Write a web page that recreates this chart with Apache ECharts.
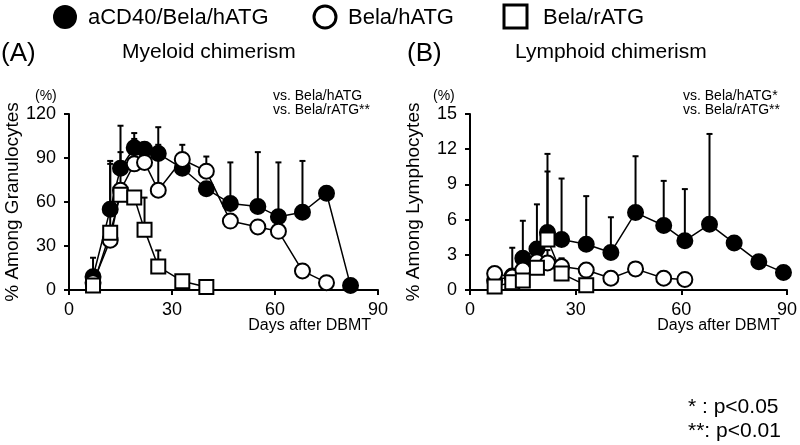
<!DOCTYPE html>
<html>
<head>
<meta charset="utf-8">
<script src="https://cdn.jsdelivr.net/npm/echarts@6/dist/echarts.min.js"></script>
<style>html,body{margin:0;padding:0;background:#fff;}#c{width:800px;height:445px;}</style>
</head>
<body>
<div id="c"></div>
<script>
// ---- Data ----
const seriesNames = ['aCD40/Bela/hATG', 'Bela/hATG', 'Bela/rATG'];
const xTicks = [0, 30, 60, 90];
const myeTicks = [0, 30, 60, 90, 120];
const lymTicks = [0, 3, 6, 9, 12, 15];

// Myeloid chimerism (A)
const myeFilledDays = [7, 12, 15, 19, 22, 26, 33, 40, 47, 55, 61, 68, 75, 82];
const myeFilled     = [9, 55, 83, 97, 96, 93, 83, 69, 59, 57, 50, 53, 66, 3];
const myeFilledTop  = [22, 88, 112, 107, null, 111, 91, null, 87, 94, 87, 88, null, null];
const myeOpenDays   = [7, 12, 15, 19, 22, 26, 33, 40, 47, 55, 61, 68, 75];
const myeOpen       = [5, 34, 68, 86, 87, 68, 89, 81, 47, 43, 40, 13, 5];
const myeOpenTop    = [null, 86, 94, 103, null, 99, 99, 91, null, null, null, null, null];
const myeSqDays     = [7, 12, 15, 19, 22, 26, 33, 40];
const myeSq         = [3, 39, 65, 63, 41, 16, 6, 2];
const myeSqTop      = [null, null, null, null, 63, 27, null, null];

// Lymphoid chimerism (B)
const lymFilledDays = [7, 12, 15, 19, 22, 26, 33, 40, 47, 55, 61, 68, 75, 82, 89];
const lymFilled     = [0.8, 1.2, 2.7, 3.5, 4.9, 4.3, 3.9, 3.2, 6.6, 5.5, 4.2, 5.6, 4.0, 2.4, 1.5];
const lymFilledTop  = [null, 3.6, 5.9, 7.3, 11.6, 9.5, 8.0, 6.2, 11.4, 9.3, 8.6, 13.3, null, null, null];
const lymOpenDays   = [7, 12, 15, 19, 22, 26, 33, 40, 47, 55, 61];
const lymOpen       = [1.4, 1.1, 1.7, 2.4, 2.3, 2.0, 1.7, 1.0, 1.8, 1.0, 0.9];
const lymOpenTop    = [null, null, null, null, 3.4, null, null, null, 2.1, null, null];
const lymSqDays     = [7, 12, 15, 19, 22, 26, 33];
const lymSq         = [0.3, 0.65, 0.8, 1.9, 4.3, 1.4, 0.4];
const lymSqTop      = [null, null, null, null, 10.1, 2.7, null];

// ---- Chart ----
const FONT = "'Liberation Sans Narrow', 'Liberation Sans', Arial, sans-serif";
const pairs = (d, v) => d.map((x, i) => [x, v[i]]);
const errPairs = (d, v, t) => d.map((x, i) => [x, v[i], t[i]]).filter(r => r[2] != null);

function errRender(params, api) {
  const x = api.value(0), v = api.value(1), t = api.value(2);
  const p0 = api.coord([x, v]), p1 = api.coord([x, t]);
  const w = 3;
  return {
    type: 'group',
    children: [
      {type: 'line', shape: {x1: p0[0], y1: p0[1], x2: p1[0], y2: p1[1]}, style: {stroke: '#000', lineWidth: 2}},
      {type: 'line', shape: {x1: p1[0] - w, y1: p1[1], x2: p1[0] + w, y2: p1[1]}, style: {stroke: '#000', lineWidth: 2}}
    ]
  };
}

function lineSeries(name, idx, data, symbol, fill) {
  return {
    name: name, type: 'line', xAxisIndex: idx, yAxisIndex: idx, data: data,
    symbol: symbol, symbolSize: symbol === 'rect' ? 14 : 15,
    lineStyle: {color: '#000', width: 1.5},
    itemStyle: {color: fill, borderColor: '#000', borderWidth: 2},
    z: 3, silent: true, emphasis: {disabled: true}
  };
}
function errSeries(idx, data) {
  return {
    type: 'custom', xAxisIndex: idx, yAxisIndex: idx, data: data,
    encode: {x: 0, y: [1, 2]}, renderItem: errRender, z: 2, silent: true
  };
}

function xAx(idx) {
  return {
    type: 'value', gridIndex: idx, min: 0, max: 90, interval: 30,
    axisLine: {show: true, lineStyle: {color: '#000', width: 2}},
    axisTick: {show: true, length: 5, lineStyle: {color: '#000', width: 2}},
    axisLabel: {color: '#000', fontSize: 18, fontFamily: FONT, margin: 11,
      formatter: v => xTicks.includes(v) ? String(v) : ''},
    splitLine: {show: false}
  };
}
function yAx(idx, max, interval, name, ticks) {
  return {
    type: 'value', gridIndex: idx, min: 0, max: max, interval: interval,
    name: name, nameLocation: 'middle', nameRotate: 90, nameGap: 47,
    nameTextStyle: {color: '#000', fontSize: 19, fontFamily: FONT},
    axisLine: {show: true, lineStyle: {color: '#000', width: 2}},
    axisTick: {show: true, length: 5, lineStyle: {color: '#000', width: 2}},
    axisLabel: {color: '#000', fontSize: 18, fontFamily: FONT, margin: 13,
      formatter: v => ticks.includes(v) ? String(v) : ''},
    splitLine: {show: false}
  };
}

const txt = (x, y, text, size, align) => ({
  type: 'text', x: x, y: y,
  style: {text: text, fontSize: size, fontFamily: FONT, fill: '#000', align: align || 'left', verticalAlign: 'middle'}
});

const chart = echarts.init(document.getElementById('c'), null, {renderer: 'canvas'});
chart.setOption({
  animation: false,
  backgroundColor: '#fff',
  grid: [
    {left: 69, right: 422, top: 114, bottom: 155},
    {left: 470, right: 11, top: 114, bottom: 155}
  ],
  xAxis: [xAx(0), xAx(1)],
  yAxis: [
    yAx(0, 120, 30, '% Among Granulocytes', myeTicks),
    yAx(1, 15, 3, '% Among Lymphocytes', lymTicks)
  ],
  series: [
    errSeries(0, errPairs(myeFilledDays, myeFilled, myeFilledTop)),
    errSeries(0, errPairs(myeOpenDays, myeOpen, myeOpenTop)),
    errSeries(0, errPairs(myeSqDays, myeSq, myeSqTop)),
    lineSeries(seriesNames[0], 0, pairs(myeFilledDays, myeFilled), 'circle', '#000'),
    lineSeries(seriesNames[1], 0, pairs(myeOpenDays, myeOpen), 'circle', '#fff'),
    lineSeries(seriesNames[2], 0, pairs(myeSqDays, myeSq), 'rect', '#fff'),
    errSeries(1, errPairs(lymFilledDays, lymFilled, lymFilledTop)),
    errSeries(1, errPairs(lymOpenDays, lymOpen, lymOpenTop)),
    errSeries(1, errPairs(lymSqDays, lymSq, lymSqTop)),
    lineSeries(seriesNames[0], 1, pairs(lymFilledDays, lymFilled), 'circle', '#000'),
    lineSeries(seriesNames[1], 1, pairs(lymOpenDays, lymOpen), 'circle', '#fff'),
    lineSeries(seriesNames[2], 1, pairs(lymSqDays, lymSq), 'rect', '#fff')
  ],
  graphic: [
    // legend
    {type: 'circle', shape: {cx: 65, cy: 17, r: 12}, style: {fill: '#000'}},
    txt(88, 18, seriesNames[0], 22),
    {type: 'circle', shape: {cx: 325, cy: 17, r: 11}, style: {fill: '#fff', stroke: '#000', lineWidth: 3}},
    txt(348, 18, seriesNames[1], 22),
    {type: 'rect', shape: {x: 504, y: 5, width: 23, height: 23}, style: {fill: '#fff', stroke: '#000', lineWidth: 3}},
    txt(543, 18, seriesNames[2], 22),
    // panel titles
    txt(1, 54, '(A)', 26),
    txt(122, 52, 'Myeloid chimerism', 21),
    txt(407, 54, '(B)', 26),
    txt(515, 52, 'Lymphoid chimerism', 21),
    txt(35, 96, '(%)', 14),
    txt(433, 96, '(%)', 14),
    txt(273, 96, 'vs. Bela/hATG', 14),
    txt(273, 110, 'vs. Bela/rATG**', 14),
    txt(683, 96, 'vs. Bela/hATG*', 14),
    txt(683, 110, 'vs. Bela/rATG**', 14),
    txt(371, 326, 'Days after DBMT', 16, 'right'),
    txt(780, 326, 'Days after DBMT', 16, 'right'),
    txt(688, 407, '* : p<0.05', 21),
    txt(688, 431, '**: p<0.01', 21)
  ]
});
</script>
</body>
</html>
